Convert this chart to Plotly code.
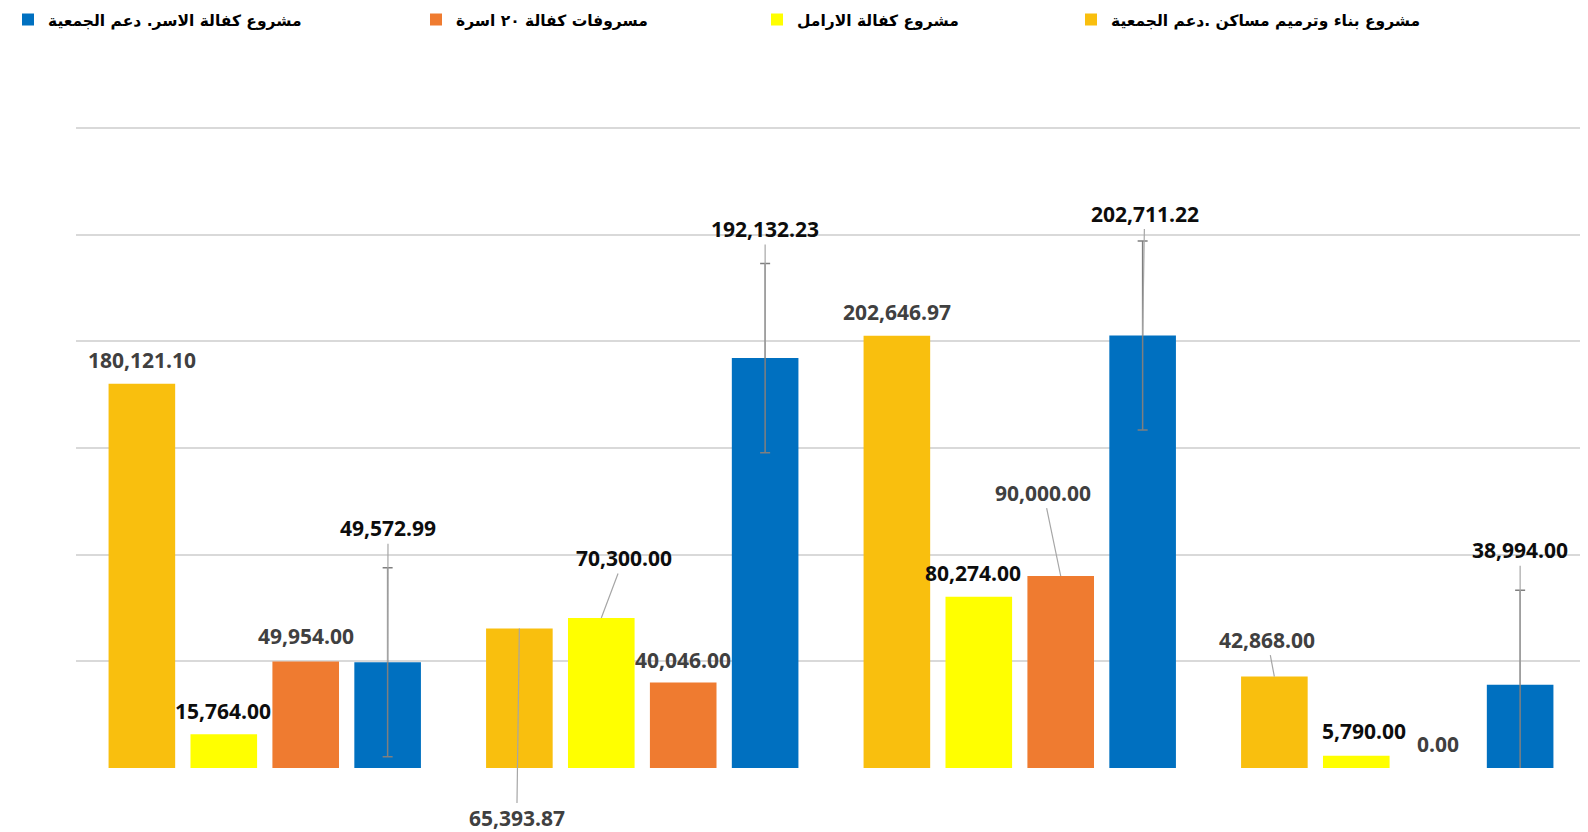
import plotly.graph_objects as go

# four periods (no visible category labels in the original)
groups = ["1", "2", "3", "4"]

series_names = [
    "مشروع بناء وترميم مساكن .دعم الجمعية",
    "مشروع كفالة الارامل",
    "مسروفات كفالة ٢٠ اسرة",
    "مشروع كفالة الاسر. دعم الجمعية",
]
housing = [180121.10, 65393.87, 202646.97, 42868.00]
widows = [15764.00, 70300.00, 80274.00, 5790.00]
families20 = [49954.00, 40046.00, 90000.00, 0.00]
families = [49572.99, 192132.23, 202711.22, 38994.00]
families_err = [44311, 44311, 44311, 44311]

series_values = [housing, widows, families20, families]
colors = ["#F9BF0E", "#FFFF00", "#EF7B30", "#0070C0"]
label_colors = ["#404040", "#0d0d0d", "#404040", "#0d0d0d"]
legend_widths = [330, 269, 296, 363]

# label placement (px offset from bar top, leader line or not)
label_pos = [
    [(0, -23.5, False), (-2.6, 190, True), (0, -23.7, False), (-7, -37, True)],
    [(-0.7, -23, False), (22.6, -60, True), (-5.4, -23.7, False), (8, -24.6, False)],
    [(0.5, -25, False), (0, -23, False), (-17.3, -83.4, True), (0, -23.7, False)],
    [(0.4, -134, True), (0, -129, True), (2, -122, True), (0, -134.5, True)],
]

bargap = 0.132
bargroupgap = 0.187
slot = (1 - bargap) / 4
bar_offsets = [-(1 - bargap) / 2 + slot * (i + 0.5) for i in range(4)]

fig = go.Figure()
for i, (name, vals) in enumerate(zip(series_names, series_values)):
    err = None
    if i == 3:
        err = dict(type="data", array=families_err, color="#7f7f7f",
                   thickness=1.5, width=5)
    fig.add_trace(go.Bar(
        x=groups, y=vals, name=name, marker_color=colors[i],
        marker_line_width=0, error_y=err, legendwidth=legend_widths[i],
        hoverinfo="skip"))

annotations = []
for si, vals in enumerate(series_values):
    for gi, v in enumerate(vals):
        dx, dy, leader = label_pos[si][gi]
        a = dict(x=gi + bar_offsets[si], y=v, xref="x", yref="y",
                 text="{:,.2f}".format(v),
                 font=dict(family="Open Sans", size=21, color=label_colors[si],
                           weight="bold"))
        if leader:
            a.update(showarrow=True, arrowhead=0, arrowwidth=1.2,
                     arrowcolor="#a6a6a6", ax=dx, ay=dy)
        else:
            a.update(showarrow=False, xshift=dx, yshift=-dy)
        annotations.append(a)

# page body adds an 8px margin, so the figure is 8px smaller than the window
# plot area is 644px tall so the 300k gridline sits just inside the top edge
fig.update_layout(
    width=1580, height=824,
    margin=dict(l=68, r=2, t=116, b=64, autoexpand=False),
    paper_bgcolor="white", plot_bgcolor="white",
    barmode="group", bargap=bargap, bargroupgap=bargroupgap,
    annotations=annotations,
    legend=dict(orientation="h", traceorder="reversed",
                xref="container", yref="paper", x=0.0, y=1.188,
                xanchor="left", yanchor="top",
                font=dict(family="DejaVu Sans", size=15.5, color="black",
                          weight="bold"),
                bgcolor="rgba(0,0,0,0)"),
    shapes=[dict(type="line", xref="paper", yref="paper",
                 x0=1.0, x1=1.0, y0=-0.11, y1=1.21,
                 line=dict(color="#C00000", width=3))],
)
fig.update_xaxes(showticklabels=False, showgrid=False, zeroline=False,
                 showline=False, ticks="")
fig.update_yaxes(range=[0, 301875],
                 tickvals=[50000, 100000, 150000, 200000, 250000, 300000],
                 showticklabels=False, showgrid=True, gridcolor="#d9d9d9",
                 gridwidth=1.5, zeroline=False, showline=False, ticks="")

fig.write_html("out.html")
